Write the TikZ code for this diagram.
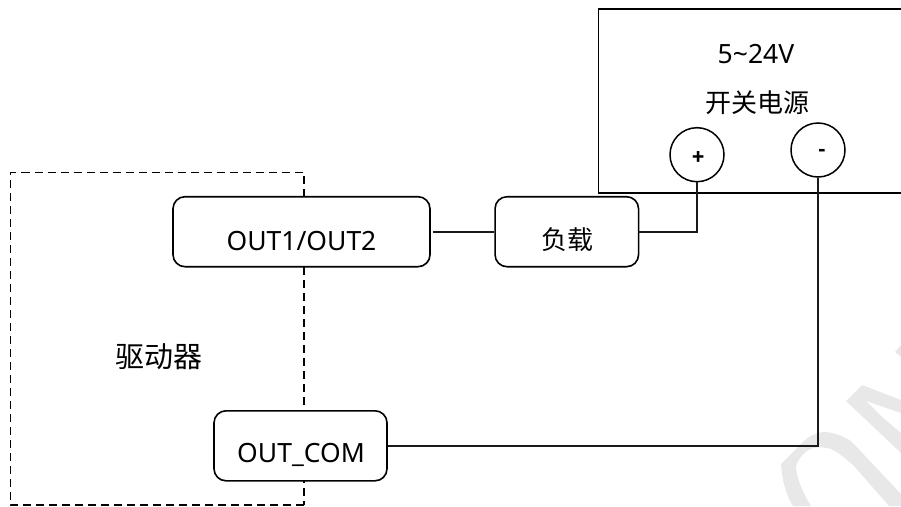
\documentclass[tikz,border=0pt]{standalone}
\usepackage{fontspec}
\setmainfont{Noto Sans CJK SC}
\newfontfamily\portfont{Noto Sans}
\tikzset{
    wire/.style={line width=1.7pt,black!90},
    portbox/.style={draw,line width=1.6pt,fill=white,rounded corners=12pt},
    terminal/.style={draw,circle,line width=1.5pt,minimum size=54pt,inner sep=0pt},
    caption/.style={inner sep=0pt,font=\fontsize{26}{30}\selectfont},
    porttext/.style={inner sep=0pt,font=\portfont\fontsize{26.5}{30}\selectfont},
    sign/.style={inner sep=0pt,font=\bfseries\fontsize{20}{22}\selectfont},
}
\begin{document}
\begin{tikzpicture}[x=1pt,y=-1pt]
                \useasboundingbox (0,0) rectangle (901,506);
                %% watermark
                \fill[black!9] (846,401) -- (862,385) -- (901,400) -- (901,413) -- (866,401) -- (881,416) -- (901,433) -- (901,453) -- cycle;
                \fill[black!9] (895,352) -- (901,345) -- (901,357) -- cycle;
                \fill[black!9] (793,506) .. controls (786,495) and (782,480) .. (781,464) -- (799,446) .. controls (808,436) and (816,432) .. (826,432) .. controls (835,433) and (843,436) .. (851,441) -- (901,494) -- (901,506) -- (889,506) -- (854,466) .. controls (845,458) and (838,452) .. (831,449) .. controls (825,447) and (820,447) .. (814,448) .. controls (805,450) and (799,458) .. (796,466) .. controls (796,476) and (803,494) .. (811,506) -- cycle;
                %% driver
                \draw[line width=1.6pt,dash pattern=on 8pt off 5pt] (304,505) -- (10.5,505) -- (10.5,172.5) -- (304,172.5) -- (304,505);
                \node[caption,font=\fontsize{29}{32}\selectfont] (driver) at (159,357) {驱动器};
                %% supply
                \draw[line width=1.6pt] (901,9) -- (598.5,9) -- (598.5,193) -- (901,193);
                \node[porttext] (volts) at (756,54) {5\textasciitilde 24V};
                \node[caption] (supply) at (757,103) {开关电源};
                \node[terminal] (plus) at (697,154.7) {};
                \node[terminal] (minus) at (818,150) {};
                \node[sign] (plussign) at (699,157.5) {+};
                \node[sign] (minussign) at (822,152.5) {-};
                %% boxes
                \node[portbox,minimum width=257pt,minimum height=70pt] (out) at (301.5,231.7) {};
                \node[portbox,minimum width=143.5pt,minimum height=70pt] (load) at (566.8,231.7) {};
                \node[portbox,minimum width=173pt,minimum height=70pt] (com) at (300.5,445.8) {};
                \node[porttext] (outtext) at (301.5,241) {OUT1/OUT2};
                \node[caption] (loadtext) at (567,240) {负载};
                \node[porttext] (comtext) at (301,455) {OUT\_COM};
                %% wires
                \draw[wire] ([xshift=2pt]out.east) -- (load.west);
                \draw[wire] (load.east) -| (plus.south);
                \draw[wire] (com.east) -| (minus.south);
            \end{tikzpicture}
\end{document}
